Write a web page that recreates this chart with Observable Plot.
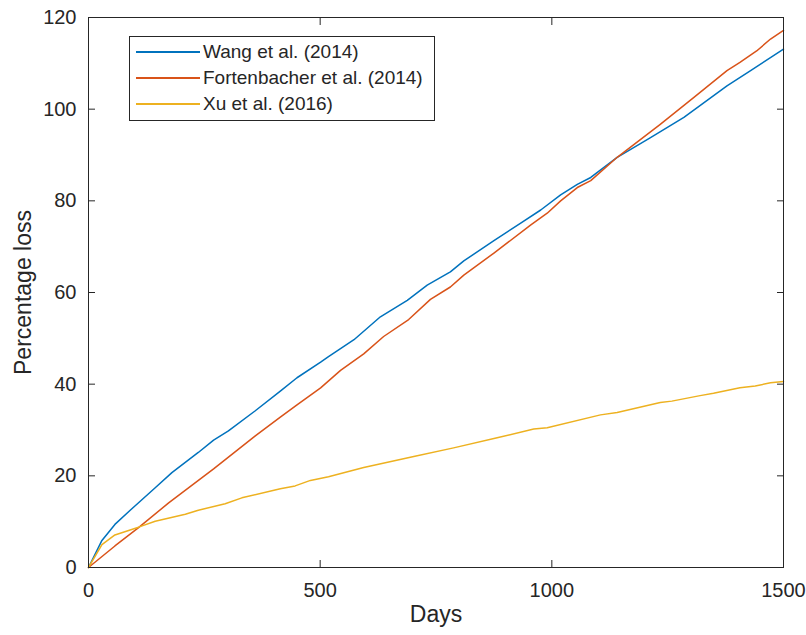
<!DOCTYPE html>
<html>
<head>
<meta charset="utf-8">
<script src="https://cdn.jsdelivr.net/npm/d3@7"></script>
<script src="https://cdn.jsdelivr.net/npm/@observablehq/plot@0.6"></script>
<style>
  html, body { margin: 0; padding: 0; background: #fff; }
  #wrap { position: relative; width: 806px; height: 635px; font-family: "Liberation Sans", Arial, sans-serif; }
  #legend { position: absolute; left: 129px; top: 36px; width: 306px; height: 85px; border: 1px solid #262626; background: #fff; box-sizing: border-box; }
  .row { position: absolute; left: 6px; height: 22px; display: flex; align-items: center; font-size: 19px; color: #262626; white-space: nowrap; }
  .sw { display: inline-block; width: 64px; height: 2px; margin-right: 3px; }
</style>
</head>
<body>
<div id="wrap"><div id="chart"></div><div id="legend"></div></div>
<script>
const seriesNames = ["Wang et al. (2014)", "Fortenbacher et al. (2014)", "Xu et al. (2016)"];
const seriesColors = ["#0072BD", "#D95319", "#EDB120"];

const wangDays = [0, 29, 57, 90, 144, 180, 237, 270, 302, 360, 414, 450, 501, 518, 573, 630, 688, 731, 781, 810, 875, 932, 976, 1019, 1055, 1084, 1141, 1213, 1285, 1378, 1429, 1500];
const wangLoss = [0, 5.9, 9.4, 12.5, 17.4, 20.7, 25.1, 27.8, 29.8, 34.2, 38.5, 41.4, 44.8, 46.0, 49.7, 54.7, 58.3, 61.6, 64.5, 66.9, 71.3, 75.1, 78.0, 81.3, 83.6, 85.1, 89.5, 93.8, 98.2, 105.1, 108.4, 113.1];

const fortDays = [0, 57, 108, 173, 270, 360, 414, 450, 501, 544, 594, 637, 691, 738, 781, 810, 875, 954, 990, 1019, 1055, 1084, 1141, 1234, 1306, 1378, 1406, 1442, 1472, 1500];
const fortLoss = [0, 4.7, 8.7, 14.1, 21.5, 28.7, 32.8, 35.5, 39.2, 43.0, 46.6, 50.4, 54.1, 58.5, 61.2, 63.8, 68.6, 74.7, 77.3, 80.0, 82.9, 84.4, 89.5, 96.7, 102.5, 108.4, 110.2, 112.7, 115.3, 117.2];

const xuDays = [0, 29, 57, 108, 144, 209, 237, 295, 331, 414, 446, 479, 518, 594, 702, 788, 882, 961, 990, 1105, 1141, 1234, 1259, 1320, 1349, 1406, 1439, 1472, 1500];
const xuLoss = [0, 5.0, 7.1, 8.8, 10.1, 11.6, 12.5, 13.9, 15.2, 17.2, 17.8, 19.0, 19.8, 21.8, 24.2, 26.1, 28.3, 30.2, 30.5, 33.3, 33.8, 36.0, 36.3, 37.5, 38.0, 39.2, 39.6, 40.3, 40.6];

const xTicks = [0, 500, 1000, 1500];
const yTicks = [0, 20, 40, 60, 80, 100, 120];
const xLabel = "Days";
const yLabel = "Percentage loss";

const toRows = (days, loss, name) => days.map((d, i) => ({day: d, loss: loss[i], name}));
const data = [
  ...toRows(wangDays, wangLoss, seriesNames[0]),
  ...toRows(fortDays, fortLoss, seriesNames[1]),
  ...toRows(xuDays, xuLoss, seriesNames[2])
];

const axisColor = "#262626";
const plain = d => String(d);
const chart = Plot.plot({
  width: 806,
  height: 635,
  marginLeft: 88,
  marginRight: 23,
  marginTop: 17,
  marginBottom: 68,
  style: {fontFamily: "'Liberation Sans', Arial, sans-serif", background: "#fff", color: axisColor},
  x: {domain: [0, 1500]},
  y: {domain: [0, 120]},
  color: {domain: seriesNames, range: seriesColors},
  marks: [
    Plot.line(data, {x: "day", y: "loss", z: "name", stroke: "name", strokeWidth: 1.5}),
    Plot.frame({stroke: axisColor, strokeWidth: 1}),
    Plot.axisX({ticks: xTicks, anchor: "bottom", tickSize: 7, insetBottom: 7, tickPadding: 15, fontSize: 20, tickFormat: plain, label: null, stroke: axisColor, fill: axisColor}),
    Plot.axisX({ticks: xTicks, anchor: "top", tickSize: 7, insetTop: 7, tickFormat: () => "", label: null, stroke: axisColor}),
    Plot.axisY({ticks: yTicks, anchor: "left", tickSize: 7, insetLeft: 7, tickPadding: 12, fontSize: 20, tickFormat: plain, label: null, stroke: axisColor, fill: axisColor}),
    Plot.axisY({ticks: yTicks, anchor: "right", tickSize: 7, insetRight: 7, tickFormat: () => "", label: null, stroke: axisColor}),
    Plot.text([xLabel], {text: d => d, frameAnchor: "bottom", dy: 54, fontSize: 23, fill: axisColor}),
    Plot.text([yLabel], {text: d => d, frameAnchor: "left", textAnchor: "middle", dx: -65, rotate: -90, fontSize: 23, fill: axisColor})
  ]
});
document.getElementById("chart").appendChild(chart);

const legend = document.getElementById("legend");
seriesNames.forEach((n, i) => {
  const row = document.createElement("div");
  row.className = "row";
  row.style.top = (4 + i * 26) + "px";
  const sw = document.createElement("span");
  sw.className = "sw";
  sw.style.background = seriesColors[i];
  const t = document.createElement("span");
  t.textContent = n;
  row.appendChild(sw);
  row.appendChild(t);
  legend.appendChild(row);
});
</script>
</body>
</html>
